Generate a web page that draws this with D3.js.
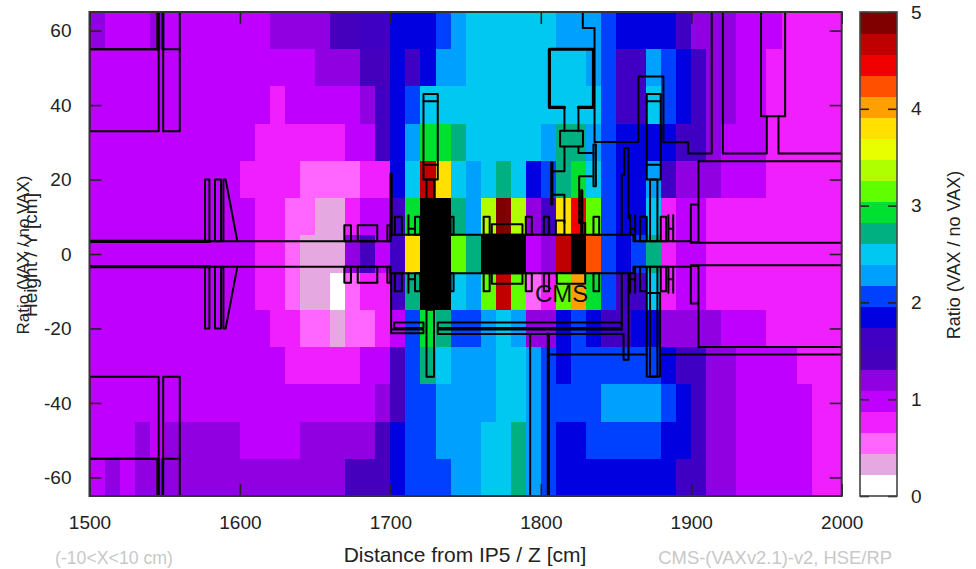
<!DOCTYPE html>
<html>
<head>
<meta charset="utf-8">
<script src="https://cdn.jsdelivr.net/npm/d3@7"></script>
<style>
  html, body { margin: 0; padding: 0; background: #fff; }
  text { font-family: "Liberation Sans", Arial, sans-serif; }
  .geo { fill: none; stroke: #000; stroke-linejoin: round; stroke-linecap: round; }
</style>
</head>
<body>
<script>
var anchoSvg = 976, altoSvg = 569,
    margen = {izq: 89.5, dcho: 841.7, sup: 12, inf: 496};

// ticks
var ticksZ = [1500, 1600, 1700, 1800, 1900, 2000];
var ticksAltura = [-60, -40, -20, 0, 20, 40, 60];
var ticksRatio = [0, 1, 2, 3, 4, 5];

// 23 colores de la barra, de 0 a 5
var paleta = ['#ffffff','#e6a8e0','#ff66ff','#f01fff','#c000ff','#9000e0','#4400bc','#4000c4',
  '#0000e0','#0040ff','#00a0ff','#00c8f0','#00b080','#00e030','#60ff00','#b0ff00',
  '#e8ff00','#ffe000','#ffa000','#ff5000','#f00000','#c00000','#800000'];

// Ratio por celda: una lista por banda de altura (10 cm), columnas de 1500 a 2000 cada 10 cm.
// 6 = fuera de escala (negro)
var fila55a65 = [1.2,1,1,1,1.2,1,1,1,1,1,1,1,1.2,1.2,1.2,1.2,1.4,1.4,1.6,1.6,1.8,1.8,1.8,2.1,2.3,2.5,2.5,2.5,2.5,2.5,2.5,2.3,2.3,2.3,2.1,1.8,1.8,1.8,1.8,1.6,1.2,1.2,1.2,1,1,1,.8,.8,.8,.8];
var fila45a55 = [1,1,1,1,1,1,1,1,1,1,1,1,1,1,1,1.2,1.2,1.2,1.4,1.4,1.8,1.6,1.8,2.3,2.3,2.5,2.5,2.5,2.5,2.5,2.5,2.5,2.5,2.3,2.1,1.6,1.6,2.3,2.1,1.8,1.6,1.2,1.2,1,1,.8,.8,.8,.8,.8];
var fila35a45 = [1,1,1,1,1,1,1,1,1,1,1,1,.8,1,1,1,1,1,1.2,1.6,1.8,2.1,2.5,2.5,2.5,2.5,2.5,2.5,2.5,2.5,2.5,2.5,2.5,2.5,2.1,1.6,1.6,2.5,2.1,1.8,1.6,1.2,1.2,1,1,.8,.8,.8,.8,.8];
var fila25a35 = [1,1,1,1,1,1,1,1,1,1,1,.8,.8,.8,.8,.8,.8,1,1,1.6,1.8,2.3,2.9,2.9,2.7,2.5,2.5,2.5,2.5,2.5,2.3,2.7,2.7,2.3,2.1,1.8,1.8,1.8,1.8,1.6,1.6,1.2,1,1,1,.8,.8,.8,.8,.8];
var fila15a25 = [1,1,1,1,1,1,1,1,1,1,.8,.8,.8,.8,.5,.5,.5,.5,.8,.8,1.8,2.5,4.7,3.8,2.5,2.3,2.5,2.7,2.5,1.8,2.1,2.7,2.9,2.5,2.1,1.8,1.8,2.3,1.6,1.2,1.2,1.2,1,1,1,.8,.8,.8,.8,.8];
var fila5a15 = [1,1,1,1,1,1,1,1,1,1,1,.8,.8,.5,.5,.3,.3,.8,1,1,1.6,2.9,6,6,2.7,2.3,3.4,4.9,3.4,1.2,1.6,3.8,4.5,3.2,2.1,1.8,1.8,2.5,.8,1,1,.8,.8,.8,.8,.8,.8,.8,.8,.8];
var filaMenos5a5 = [1,1,1,1,1,1,1,1,1,1,1,.8,.8,.5,.3,.3,.3,1.2,1.4,1,1.6,3.8,6,6,3.2,2.7,6,6,6,1,1.2,4.7,6,4.2,2.1,1.8,2.1,2.7,.8,1,1,.8,.8,.8,.8,.8,.8,.8,.8,.8];
var filaMenos15a5 = [1,1,1,1,1,1,1,1,1,1,1,.8,.8,.5,.3,.3,.1,.5,.8,.8,1.6,2.7,6,6,2.5,2.3,3.2,4.7,3.2,.5,.8,3.2,4,2.9,2.1,1.6,1.6,2.5,.8,1,1,.8,.8,.8,.8,.8,.8,.8,.8,.8];
var filaMenos25a15 = [1,1,1,1,1,1,1,1,1,1,1,1,.8,.8,.5,.5,.3,.5,.5,.8,1,2.1,2.9,2.7,2.1,2.1,2.3,2.5,2.3,1.2,1.2,1.8,2.1,1.8,1.6,1.6,1.8,1.8,1.2,1.2,1.2,1.2,1,1,1,.8,.8,.8,.8,.8];
var filaMenos35a25 = [1,1,1,1,1,1,1,1,1,1,1,1,1,.8,.8,.8,.8,.8,1,1,1.4,2.1,2.7,2.5,2.3,2.3,2.3,2.5,2.5,2.3,2.1,1.8,2.1,2.1,2.1,2.1,2.1,2.1,1.8,1.6,1.6,1.2,1.2,1,1,1,1,.8,.8,.8];
var filaMenos45a35 = [1,1,1,1,1,1,1,1,1,1,1,1,1,1,1,1,1,1,1,1.2,1.4,2.1,2.1,2.3,2.3,2.3,2.3,2.5,2.5,2.3,2.1,2.1,2.1,2.1,2.3,2.3,2.3,2.3,2.1,1.8,1.6,1.2,1.2,1,1,1,1,1,.8,.8];
var filaMenos55a45 = [1,1,1,1.2,1,1.2,1.2,1.2,1.2,1.2,1,1,1,1,1.2,1.2,1.2,1.2,1.2,1.4,1.8,2.1,2.1,2.3,2.3,2.3,2.5,2.5,2.7,2.3,2.1,1.8,1.8,2.1,2.1,2.1,2.1,2.1,1.8,1.8,1.6,1.2,1.2,1,1,1,1,1,.8,.8];
var filaMenos65a55 = [1,1.2,1,1.2,1.2,1.2,1.2,1.2,1.2,1.2,1.2,1.2,1.2,1.2,1.2,1.2,1.2,1.4,1.4,1.4,1.8,2.1,2.1,2.1,2.3,2.3,2.5,2.5,2.7,2.3,2.1,1.8,1.8,1.8,1.8,1.8,1.8,1.8,1.8,1.6,1.6,1.2,1.2,1,1,1,1,1,.8,.8];

var filas = [fila55a65, fila45a55, fila35a45, fila25a35, fila15a25, fila5a15, filaMenos5a5,
  filaMenos15a5, filaMenos25a15, filaMenos35a25, filaMenos45a35, filaMenos55a45, filaMenos65a55];

// Geometria del detector en cm [z0, z1, y0, y1]: cajas que se repiten arriba y abajo
var cajasEspejo = [[1576.8,1579.7,3.4,20],[1583.4,1587.4,3.4,20],[1669.4,1673.8,3.4,7.7],[1678.3,1691.3,3.4,7.7],
  [1698,1700,3.4,7.7],[1703,1707.6,5.2,10],[1716.4,1719.8,5.2,10],[1740,1742,5.2,10],[1762,1766,5.2,10],
  [1767.4,1787.8,5.2,8],[1790,1794,5.2,10],[1802,1805.5,5.2,10],[1835,1838.8,5.2,10],[1866,1870.4,3.4,10],
  [1879.7,1883.3,3.4,10],[1899.7,1904.8,3.2,13.3]];
var cajasSueltas = [[1500,1546,33,55],[1500,1546,55,65],[1549,1560,33,65],
  [1500,1546,-55,-33],[1500,1546,-65,-55],[1549,1560,-65,-33],
  [1722,1731.5,20,43],[1724,1729,14,20],[1724,1729,-33,-15],
  [1870.4,1879.7,20,43],[1872.6,1877.5,3.4,20],[1872.6,1877.5,-33,-3.4],[1870.4,1879.3,-32.9,-10.5],
  [1812.8,1828,28.9,33.1],[1835,1836.6,18.2,29.4],[1810,1815.7,5.2,9],[1946.4,1962.4,37,65],
  [1702.5,1722,-19.9,-18.4],[1731.5,1853.8,-19.9,-18.4],[1810.6,1829.5,-8,-5.1]];
// trazos que se repiten arriba y abajo
var trazosEspejo = [
  [[1589,3.4],[1589,20],[1590.5,20],[1598.3,3.4]],
  [[1580,3.4],[1700,3.4]],
  [[1700,3.4],[1700,5.2],[1861.6,5.2],[1861.6,3.4],[1899.7,3.4]],
  [[1899.7,3],[2000,3]],
  [[1712,5.2],[1712,10.4]],[[1712,6.8],[1716.4,6.8]],
  [[1859.4,5.2],[1859.4,10.4]],[[1859.4,6.8],[1862.7,6.8]],[[1862.7,3.4],[1862.7,10.4]],
  [[1884.8,3.4],[1884.8,10.4]],[[1884.8,6.8],[1888,6.8]],[[1888,3.4],[1888,10.4]]
];
var trazosSueltos = [
  [[1549,55],[1560,55]],[[1549,-55],[1560,-55]],[[1548.5,55],[1548.5,65]],[[1548.5,-55],[1548.5,-65]],
  [[1722,41],[1731.5,41]],[[1722,24],[1731.5,24]],[[1870.4,41],[1879.7,41]],[[1870.4,24],[1879.7,24]],
  [[1815.7,39.4],[1815.7,33]],[[1825,39.4],[1825,33]],
  [[1815.7,28.9],[1815.7,22.2],[1807.3,22.2]],
  [[1807.3,15.9],[1815.7,15.9],[1815.7,8.3]],
  [[1825,28.9],[1825,27.1],[1835,27.1]],
  [[1835,20.9],[1825.5,20.9],[1825.5,12.4]],
  [[1825.5,12],[1825.5,8.3],[1829.5,8.3],[1829.5,5.2]],
  [[1827.9,65],[1827.9,60.7],[1835.7,60.7],[1835.7,30.1],[1864.9,30.1],[1864.9,47.7],[1881.5,47.7],[1881.5,30],[1898,30],[1898,27],[1913.6,27],[1913.6,65]],
  [[1921,65],[1921,27],[1950.2,27],[1950.2,37]],
  [[1958,37],[1958,27],[2000,27]],
  [[2000,24.9],[1904.8,24.9],[1904.8,13.3]],
  [[1853.8,5.2],[1853.8,21.3],[1855.5,21.3],[1855.5,28.5],[1858.3,28.5],[1858.3,9.7]],
  [[1700.5,-5.1],[1700.5,-21.3],[1722,-21.3],[1722,-20.3],[1701,-20.3]],
  [[1853.8,-20.3],[1731.5,-20.3],[1731.5,-21.5],[1855,-21.5],[1855,-28.4],[1858.3,-28.4],[1858.3,-5.1]],
  [[1853.8,-5.1],[1853.8,-20.3]],
  [[1792.9,-21.5],[1792.9,-65]],
  [[1805,-27],[1870.5,-27]],[[1879.3,-27],[2000,-27]],
  [[1904.8,-13.2],[1904.8,-25],[2000,-25]]
];
// trazos gruesos
var trazosGruesos = [
  [[1500,3.4],[1580,3.4]],[[1500,-3.4],[1580,-3.4]],
  [[1815.7,39.4],[1805.7,39.4],[1805.7,55],[1835,55],[1835,39.4],[1825,39.4]],
  [[1807.3,24.5],[1807.3,13.4]],[[1827.2,17],[1827.2,5.2]],
  [[1700.5,21.5],[1700.5,5]],[[1805,-21.5],[1805,-65]],
  [[1545.5,55],[1545.5,65]],[[1545.5,-55],[1545.5,-65]]
];

var escalaX = d3.scaleLinear().domain([1500, 2000]).range([margen.izq, margen.dcho]);
var escalaY = d3.scaleLinear().domain([-65, 65]).range([margen.inf, margen.sup]);
var escalaBarra = d3.scaleLinear().domain([0, 5]).range([margen.inf, margen.sup]);
var escalaColor = d3.scaleQuantize().domain([0, 5]).range(paleta);

var elementoSvg = d3.select('body').append('svg')
    .attr('width', anchoSvg)
    .attr('height', altoSvg)
    .style('display', 'block');

// Celdas
var celdas = [];
filas.forEach((fila, r) => fila.forEach((v, i) => celdas.push({z: 1500 + 10 * i, y: 65 - 10 * r, v: v})));

elementoSvg.append('g')
    .attr('class', 'celdas')
    .attr('shape-rendering', 'crispEdges')
    .selectAll('rect')
    .data(celdas)
    .enter()
    .append('rect')
    .attr('x', d => escalaX(d.z))
    .attr('y', d => escalaY(d.y))
    .attr('width', d => escalaX(d.z + 10) - escalaX(d.z) + 0.5)
    .attr('height', d => escalaY(d.y - 10) - escalaY(d.y) + 0.5)
    .attr('fill', d => d.v > 5 ? '#000' : escalaColor(d.v));

// Geometria
function cajaATrazo(c) {
  return [[c[0], c[2]], [c[1], c[2]], [c[1], c[3]], [c[0], c[3]], [c[0], c[2]]];
}
function espejo(t) {
  return t.map(p => [p[0], -p[1]]);
}
var trazosFinos = []
    .concat(cajasEspejo.map(cajaATrazo))
    .concat(cajasEspejo.map(cajaATrazo).map(espejo))
    .concat(cajasSueltas.map(cajaATrazo))
    .concat(trazosEspejo)
    .concat(trazosEspejo.map(espejo))
    .concat(trazosSueltos);

var linea = d3.line().x(d => escalaX(d[0])).y(d => escalaY(d[1]));

elementoSvg.append('clipPath').attr('id', 'recorte').append('rect')
    .attr('x', margen.izq).attr('y', margen.sup)
    .attr('width', margen.dcho - margen.izq).attr('height', margen.inf - margen.sup);

var grupoGeo = elementoSvg.append('g').attr('clip-path', 'url(#recorte)');

grupoGeo.selectAll('.fino')
    .data(trazosFinos)
    .enter()
    .append('path')
    .attr('class', 'geo fino')
    .attr('d', linea)
    .attr('stroke-width', 2);

grupoGeo.selectAll('.grueso')
    .data(trazosGruesos)
    .enter()
    .append('path')
    .attr('class', 'geo grueso')
    .attr('d', linea)
    .attr('stroke-width', 3.2);

// Ejes
function estiloEje(g, tam) {
  g.select('.domain').remove();
  g.selectAll('.tick line').attr('stroke', '#222').attr('stroke-width', 1.6);
  g.selectAll('.tick text').attr('font-size', tam).attr('fill', '#222').style('font-family', '"Liberation Sans", Arial, sans-serif');
}

elementoSvg.append('g')
    .attr('transform', 'translate(0,' + margen.inf + ')')
    .call(d3.axisBottom(escalaX).tickValues(ticksZ).tickFormat(d => String(d)).tickSizeInner(-12).tickPadding(20))
    .call(estiloEje, 19);
elementoSvg.append('g')
    .attr('transform', 'translate(0,' + margen.sup + ')')
    .call(d3.axisTop(escalaX).tickValues(ticksZ).tickFormat('').tickSizeInner(-12))
    .call(estiloEje, 19);
elementoSvg.append('g')
    .attr('transform', 'translate(' + margen.izq + ',0)')
    .call(d3.axisLeft(escalaY).tickValues(ticksAltura).tickFormat(d => String(d)).tickSizeInner(-12).tickPadding(18))
    .call(estiloEje, 19);
elementoSvg.append('g')
    .attr('transform', 'translate(' + margen.dcho + ',0)')
    .call(d3.axisRight(escalaY).tickValues(ticksAltura).tickFormat('').tickSizeInner(-12))
    .call(estiloEje, 19);

elementoSvg.append('rect')
    .attr('x', margen.izq).attr('y', margen.sup)
    .attr('width', margen.dcho - margen.izq).attr('height', margen.inf - margen.sup)
    .attr('fill', 'none').attr('stroke', '#333').attr('stroke-width', 2);

// Barra de color
var barraX0 = 860, barraX1 = 897;
elementoSvg.append('g')
    .attr('shape-rendering', 'crispEdges')
    .selectAll('rect')
    .data(paleta)
    .enter()
    .append('rect')
    .attr('x', barraX0)
    .attr('width', barraX1 - barraX0)
    .attr('y', (d, i) => escalaBarra((i + 1) * 5 / paleta.length))
    .attr('height', escalaBarra(0) - escalaBarra(5 / paleta.length) + 0.5)
    .attr('fill', d => d);

elementoSvg.append('g')
    .attr('transform', 'translate(' + barraX1 + ',0)')
    .call(d3.axisRight(escalaBarra).tickValues(ticksRatio).tickFormat(d => String(d)).tickSizeInner(-9).tickPadding(14))
    .call(estiloEje, 19);
elementoSvg.append('g')
    .attr('transform', 'translate(' + barraX0 + ',0)')
    .call(d3.axisLeft(escalaBarra).tickValues(ticksRatio).tickFormat('').tickSizeInner(-9))
    .call(estiloEje, 19);

elementoSvg.append('rect')
    .attr('x', barraX0).attr('y', margen.sup)
    .attr('width', barraX1 - barraX0).attr('height', margen.inf - margen.sup)
    .attr('fill', 'none').attr('stroke', '#444').attr('stroke-width', 1.6);

// Textos
elementoSvg.append('text')
    .text('CMS').attr('x', 535).attr('y', 302)
    .attr('font-size', 24).attr('fill', '#111');
elementoSvg.append('text')
    .text('Distance from IP5 / Z [cm]').attr('x', 465).attr('y', 562)
    .attr('text-anchor', 'middle').attr('font-size', 21).attr('fill', '#222');
elementoSvg.append('text')
    .text('(-10<X<10 cm)').attr('x', 55).attr('y', 564)
    .attr('font-size', 17.7).attr('fill', '#c8c8c8');
elementoSvg.append('text')
    .text('CMS-(VAXv2.1)-v2, HSE/RP').attr('x', 892).attr('y', 564)
    .attr('text-anchor', 'end').attr('font-size', 18.4).attr('fill', '#c8c8c8');
elementoSvg.append('text')
    .text('Height / Y [cm]')
    .attr('transform', 'translate(37,255) rotate(-90)')
    .attr('text-anchor', 'middle').attr('font-size', 19).attr('fill', '#222');
elementoSvg.append('text')
    .text('Ratio (VAX / no VAX)')
    .attr('transform', 'translate(29,255) rotate(-90)')
    .attr('text-anchor', 'middle').attr('font-size', 17).attr('fill', '#222');
elementoSvg.append('text')
    .text('Ratio (VAX / no VAX)')
    .attr('transform', 'translate(960,255) rotate(-90)')
    .attr('text-anchor', 'middle').attr('font-size', 18).attr('fill', '#222');
</script>
</body>
</html>
